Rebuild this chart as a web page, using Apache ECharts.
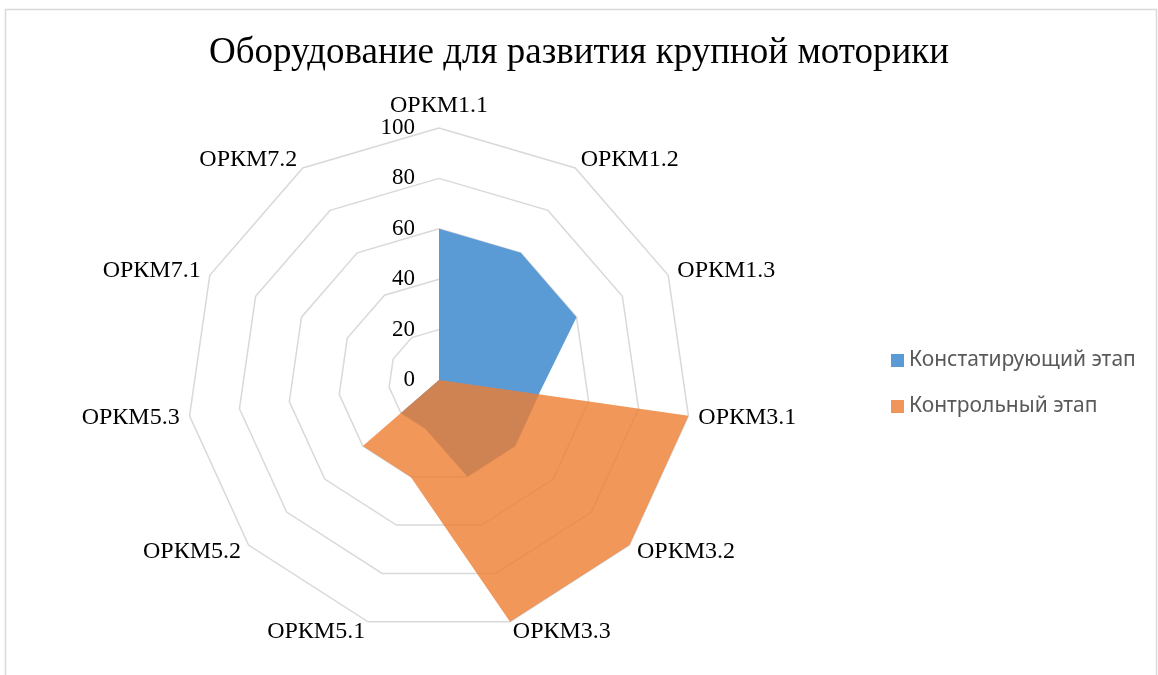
<!DOCTYPE html>
<html>
<head>
<meta charset="utf-8">
<script src="https://cdn.jsdelivr.net/npm/echarts@6/dist/echarts.min.js"></script>
<style>
html,body{margin:0;padding:0;background:#fff;}
#chart{width:1158px;height:675px;}
</style>
</head>
<body>
<div id="chart"></div>
<script>
const categories = ['ОРКМ1.1','ОРКМ1.2','ОРКМ1.3','ОРКМ3.1','ОРКМ3.2','ОРКМ3.3','ОРКМ5.1','ОРКМ5.2','ОРКМ5.3','ОРКМ7.1','ОРКМ7.2'];
const seriesNames = ['Констатирующий этап','Контрольный этап'];
const stage1 = [60, 60, 60, 40, 40, 40, 20, 20, 0, 0, 0];
const stage2 = [0, 0, 0, 100, 100, 100, 40, 40, 0, 0, 0];
const axisMin = 0, axisMax = 100, axisStep = 20;

// ECharts radar runs counter-clockwise; reorder so categories go clockwise from top
const order = [0].concat(categories.map((_, i) => i).slice(1).reverse());
const ind = order.map(i => ({ name: categories[i], max: axisMax, min: axisMin }));
const d1 = order.map(i => stage1[i]);
const d2 = order.map(i => stage2[i]);

const serif = '"Liberation Serif","Times New Roman",serif';
const chart = echarts.init(document.getElementById('chart'), null, { renderer: 'canvas' });
chart.setOption({
  backgroundColor: '#ffffff',
  animation: false,
  title: {
    text: 'Оборудование для развития крупной моторики',
    left: 'center',
    top: 30,
    textStyle: { fontFamily: serif, fontSize: 37, fontWeight: 'normal', color: '#000' }
  },
  legend: {
    orient: 'vertical',
    left: 886,
    top: 345,
    itemGap: 25,
    itemWidth: 13,
    itemHeight: 13,
    icon: 'rect',
    textStyle: { fontFamily: '"Noto Sans","Open Sans",sans-serif', fontSize: 21, color: '#595959' },
    data: seriesNames
  },
  graphic: [{
    type: 'rect', silent: true, z: -1,
    shape: { x: 5.5, y: 9.5, width: 1151, height: 700 },
    style: { fill: 'none', stroke: '#D9D9D9', lineWidth: 1.5 }
  }],
  radar: {
    center: [439, 380],
    radius: 252,
    startAngle: 90,
    shape: 'polygon',
    splitNumber: (axisMax - axisMin) / axisStep,
    indicator: ind,
    axisName: { color: '#000', fontFamily: serif, fontSize: 24 },
    nameGap: 10,
    axisLine: { show: false },
    axisTick: { show: false },
    axisLabel: { show: false },
    splitLine: { lineStyle: { color: '#D9D9D9', width: 1.5 } },
    splitArea: { show: false }
  },
  polar: { center: [439, 380], radius: 252 },
  angleAxis: { type: 'value', startAngle: 90, show: false, min: 0, max: 360 },
  radiusAxis: {
    type: 'value', min: axisMin, max: axisMax, interval: axisStep,
    axisLine: { show: false }, axisTick: { show: false }, splitLine: { show: false },
    axisLabel: { show: true, margin: 24, color: '#000', fontFamily: serif, fontSize: 23 },
    z: 5
  },
  series: [{
    type: 'radar',
    symbol: 'none',
    data: [
      { name: seriesNames[0], value: d1,
        itemStyle: { color: '#5B9BD5' },
        lineStyle: { width: 0, color: '#5B9BD5' },
        areaStyle: { color: '#5B9BD5', opacity: 1 } },
      { name: seriesNames[1], value: d2,
        itemStyle: { color: '#F0965A' },
        lineStyle: { width: 0, color: '#ED7D31' },
        areaStyle: { color: '#ED7D31', opacity: 0.8 } }
    ]
  }]
});
</script>
</body>
</html>
